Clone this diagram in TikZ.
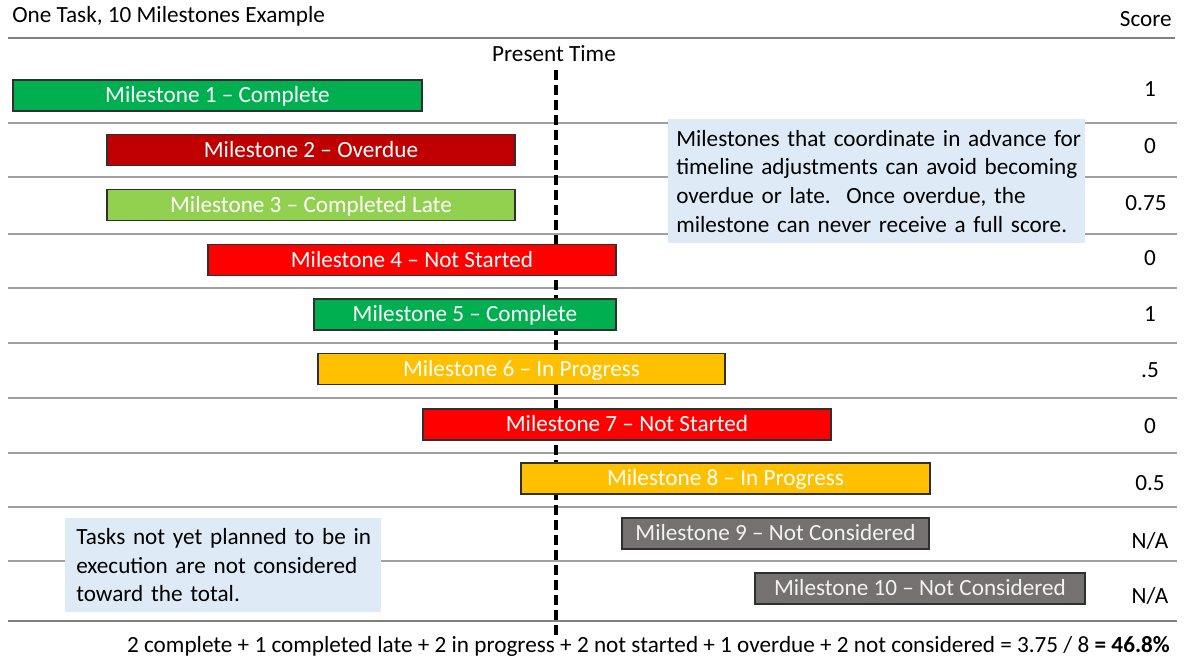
\documentclass[tikz,border=0pt]{standalone}
\usepackage{fontspec}
\setmainfont{Carlito}
\definecolor{cgreen}{HTML}{00B050}
\definecolor{cdarkred}{HTML}{C00000}
\definecolor{clightgreen}{HTML}{92D050}
\definecolor{cred}{HTML}{FF0000}
\definecolor{corange}{HTML}{FFC000}
\definecolor{cgray}{HTML}{767171}
\definecolor{ccallout}{HTML}{DEEBF7}
\definecolor{crule}{HTML}{808080}
\definecolor{cthin}{HTML}{A0A0A0}
\definecolor{cborder}{HTML}{303030}
\begin{document}
\begin{tikzpicture}[x=0.75pt,y=-0.75pt,
  base/.style={font=\fontsize{17.4pt}{21.4pt}\selectfont, inner sep=0pt},
  txt/.style={base, text height=11.2pt, text depth=0pt},
  bar/.style={txt, draw=cborder, line width=0.8pt, text=white, minimum height=31*0.75pt, minimum width=#1*0.75pt},
  score/.style={txt},
  callout/.style={base, fill=ccallout, align=left, anchor=north west},
  thickrule/.style={draw=crule, line width=2.2pt},
  thinrule/.style={draw=cthin, line width=1pt},
  presentline/.style={draw=black, line width=2.4pt, dash pattern=on 7.5pt off 3.75pt}
]
\useasboundingbox (0,0) rectangle (1186,659);
% rules
\draw[thickrule] (8,38) -- (1175,38);
\draw[thickrule] (8,621) -- (1177,621);
\foreach \yy in {123,177,234,288,343,398,453,507,561}
  \draw[thinrule] (8,\yy) -- (1177,\yy);
% header
\node[txt, anchor=west] (title) at (12,15) {One Task, 10 Milestones Example};
\node[txt, anchor=east] (scorehead) at (1172,19) {Score};
\node[txt] (present) at (554,54) {Present Time};
% present time line
\coordinate (dtop) at (556,70);
\coordinate (dbot) at (556,640);
\draw[presentline] (dtop) -- (dbot);
% bars
\node[bar=409, fill=cgreen] (m1) at (217.5,95.5) {Milestone 1 – Complete};
\node[bar=408, fill=cdarkred] (m2) at (311,150) {Milestone 2 – Overdue};
\node[bar=408, fill=clightgreen] (m3) at (311,205) {Milestone 3 – Completed Late};
\node[bar=408, fill=cred] (m4) at (412,260) {Milestone 4 – Not Started};
\node[bar=302, fill=cgreen] (m5) at (465,314.5) {Milestone 5 – Complete};
\node[bar=407, fill=corange] (m6) at (521.5,369) {Milestone 6 – In Progress};
\node[bar=408, fill=cred] (m7) at (627,424.5) {Milestone 7 – Not Started};
\node[bar=409, fill=corange] (m8) at (725.5,478.5) {Milestone 8 – In Progress};
\node[bar=307, fill=cgray, text=white!95!black] (m9) at (775.5,533.5) {Milestone 9 – Not Considered};
\node[bar=330, fill=cgray, text=white!95!black] (m10) at (920,588.5) {Milestone 10 – Not Considered};
% scores
\node[score] (s1) at (1150,89) {1};
\node[score] (s2) at (1150,146) {0};
\node[score] (s3) at (1146,203) {0.75};
\node[score] (s4) at (1150,258) {0};
\node[score] (s5) at (1150,314) {1};
\node[score] (s6) at (1150,370) {.5};
\node[score] (s7) at (1150,426) {0};
\node[score] (s8) at (1150,483) {0.5};
\node[score] (s9) at (1150,541) {N/A};
\node[score] (s10) at (1150,596) {N/A};
% callouts
\node[callout, minimum width=417*0.75pt, minimum height=124*0.75pt, inner xsep=8*0.75pt, text width=401*0.75pt] (c1) at (668,119)
  {\mbox{Milestones that coordinate in advance for}\\\mbox{timeline adjustments can avoid becoming}\\\mbox{overdue or late.\ \ Once overdue, the}\\\mbox{milestone can never receive a full score.}};
\node[callout, minimum width=316*0.75pt, minimum height=94*0.75pt, inner xsep=11*0.75pt, text width=294*0.75pt] (c2) at (65,518)
  {\mbox{Tasks not yet planned to be in}\\\mbox{execution are not considered}\\\mbox{toward the total.}};
% bottom summary
\node[txt] (summary) at (648.5,645) {2 complete + 1 completed late + 2 in progress + 2 not started + 1 overdue + 2 not considered = 3.75 / 8 \textbf{= 46.8\%}};
\end{tikzpicture}
\end{document}
